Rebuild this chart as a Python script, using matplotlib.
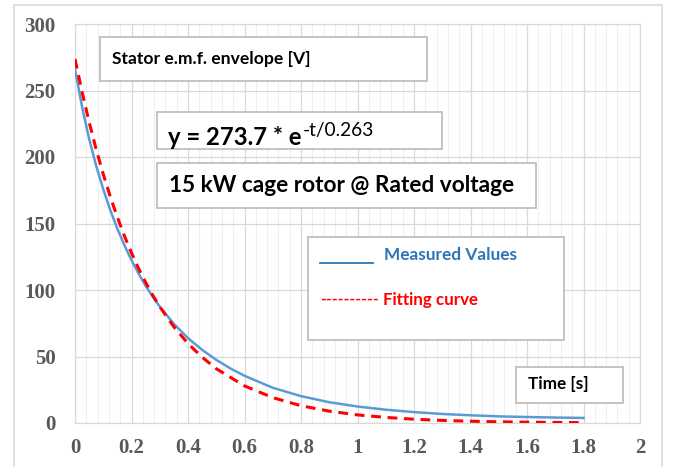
import matplotlib
matplotlib.use("Agg")
import matplotlib.pyplot as plt
from matplotlib.patches import Rectangle
from matplotlib.lines import Line2D
from matplotlib.ticker import MultipleLocator

# ---- data ----
t_measured = [0, 0.025, 0.05, 0.075, 0.1, 0.125, 0.15, 0.175, 0.2, 0.225, 0.25, 0.275,
              0.3, 0.35, 0.4, 0.45, 0.5, 0.55, 0.6, 0.7, 0.8, 0.9, 1.0, 1.1, 1.2, 1.3, 1.4,
              1.5, 1.6, 1.7, 1.8]
v_measured = [266, 237.7, 213.7, 193.4, 175.7, 160.0, 146.1, 133.6, 122.4, 112.3, 103.2, 95.0,
              87.5, 74.5, 63.8, 55.0, 47.5, 41.0, 35.5, 26.5, 20.2, 15.6, 12.4, 10.0, 8.2,
              6.8, 5.8, 5.0, 4.5, 4.1, 3.8]
t_fit = [0, 0.025, 0.05, 0.075, 0.1, 0.125, 0.15, 0.175, 0.2, 0.225, 0.25, 0.275,
         0.3, 0.35, 0.4, 0.45, 0.5, 0.6, 0.7, 0.8, 0.9, 1.0, 1.1, 1.2, 1.3, 1.4,
         1.5, 1.6, 1.7, 1.8]
v_fit = [273.7, 248.9, 226.3, 205.7, 187.1, 170.1, 154.7, 140.6, 127.9, 116.2, 105.7, 96.1,
         87.4, 72.3, 59.7, 49.5, 40.8, 27.9, 19.1, 13.0, 8.9, 6.1, 4.2, 2.85, 1.95, 1.33,
         0.91, 0.62, 0.43, 0.29]
x_ticks = [0, 0.2, 0.4, 0.6, 0.8, 1, 1.2, 1.4, 1.6, 1.8, 2]
x_tick_labels = ["0", "0.2", "0.4", "0.6", "0.8", "1", "1.2", "1.4", "1.6", "1.8", "2"]
y_ticks = [0, 50, 100, 150, 200, 250, 300]

W, H = 675, 467
fig = plt.figure(figsize=(W / 100, H / 100), dpi=100)
fig.patch.set_facecolor("white")

def fx(px):
    return px / W

def fy(py):
    return (H - py) / H

ax = fig.add_axes([fx(75), fy(423), fx(640) - fx(75), fy(24) - fy(423)])
ax.set_xlim(0, 2)
ax.set_ylim(0, 300)

ax.plot(t_measured, v_measured, color="#5B9BD5", lw=1.8, zorder=3)
ax.plot(t_fit, v_fit, color="#FF0000", lw=2.2, ls=(0, (3.2, 2.2)), zorder=4)

ax.set_xticks(x_ticks)
ax.set_xticklabels(x_tick_labels)
ax.set_yticks(y_ticks)
ax.xaxis.set_minor_locator(MultipleLocator(0.04))
ax.grid(which="major", axis="both", color="#D9D9D9", lw=0.9)
ax.grid(which="minor", axis="x", color="#EFEFEF", lw=0.8)
ax.set_axisbelow(True)
for s in ax.spines.values():
    s.set_color("#D9D9D9")
    s.set_linewidth(0.9)
ax.tick_params(which="both", length=0)
ax.tick_params(axis="y", pad=14)
ax.tick_params(axis="x", pad=11)
for lab in ax.get_xticklabels() + ax.get_yticklabels():
    lab.set_fontfamily("Liberation Serif")
    lab.set_fontweight("bold")
    lab.set_fontsize(15)
    lab.set_color("#595959")

# outer chart border
fig.patches.append(Rectangle((fx(14), fy(480)), fx(662) - fx(14), fy(5) - fy(480),
                             transform=fig.transFigure, fill=False,
                             edgecolor="#D9D9D9", lw=1.2, zorder=0))

def box(x0, y0, x1, y1):
    fig.patches.append(Rectangle((fx(x0), fy(y1)), fx(x1) - fx(x0), fy(y0) - fy(y1),
                                 transform=fig.transFigure, facecolor="white",
                                 edgecolor="#BFBFBF", lw=1.3, zorder=5))

FONT = "Lato"

box(100, 37, 427, 81)
fig.text(fx(112), fy(59), "Stator e.m.f. envelope [V]", fontsize=12.6, fontweight="bold",
         family=FONT, color="black", va="center", ha="left", zorder=6)

box(157, 112, 442, 149)
eq = fig.text(fx(168), fy(145), "y = 273.7 * e", fontsize=17.2, fontweight="bold",
              family=FONT, color="black", va="baseline", ha="left", zorder=6)
fig.canvas.draw()
bb = eq.get_window_extent(renderer=fig.canvas.get_renderer())
fig.text(bb.x1 / W + 0.002, fy(136), "-t/0.263", fontsize=13.8, family=FONT,
         color="black", va="baseline", ha="left", zorder=6)

box(157, 163, 536, 208)
fig.text(fx(169), fy(186), "15 kW cage rotor @ Rated voltage", fontsize=16.3, fontweight="bold",
         family=FONT, color="black", va="center", ha="left", zorder=6)

box(308, 237, 564, 340)
fig.lines.append(Line2D([fx(320), fx(373)], [fy(263), fy(263)], transform=fig.transFigure,
                        color="#2E75B6", lw=1.3, zorder=6))
fig.text(fx(384), fy(255), "Measured Values", fontsize=12.4, fontweight="bold",
         family=FONT, color="#2E75B6", va="center", ha="left", zorder=6)
fig.text(fx(320), fy(300), "----------", fontsize=11.5, fontweight="bold",
         family=FONT, color="#FF0000", va="center", ha="left", zorder=6)
fig.text(fx(383), fy(300), "Fitting curve", fontsize=12.2, fontweight="bold",
         family=FONT, color="#FF0000", va="center", ha="left", zorder=6)

box(516, 367, 623, 403)
fig.text(fx(528), fy(384), "Time [s]", fontsize=12.3, fontweight="bold",
         family=FONT, color="black", va="center", ha="left", zorder=6)

fig.savefig("out.png", dpi=100, facecolor="white")
